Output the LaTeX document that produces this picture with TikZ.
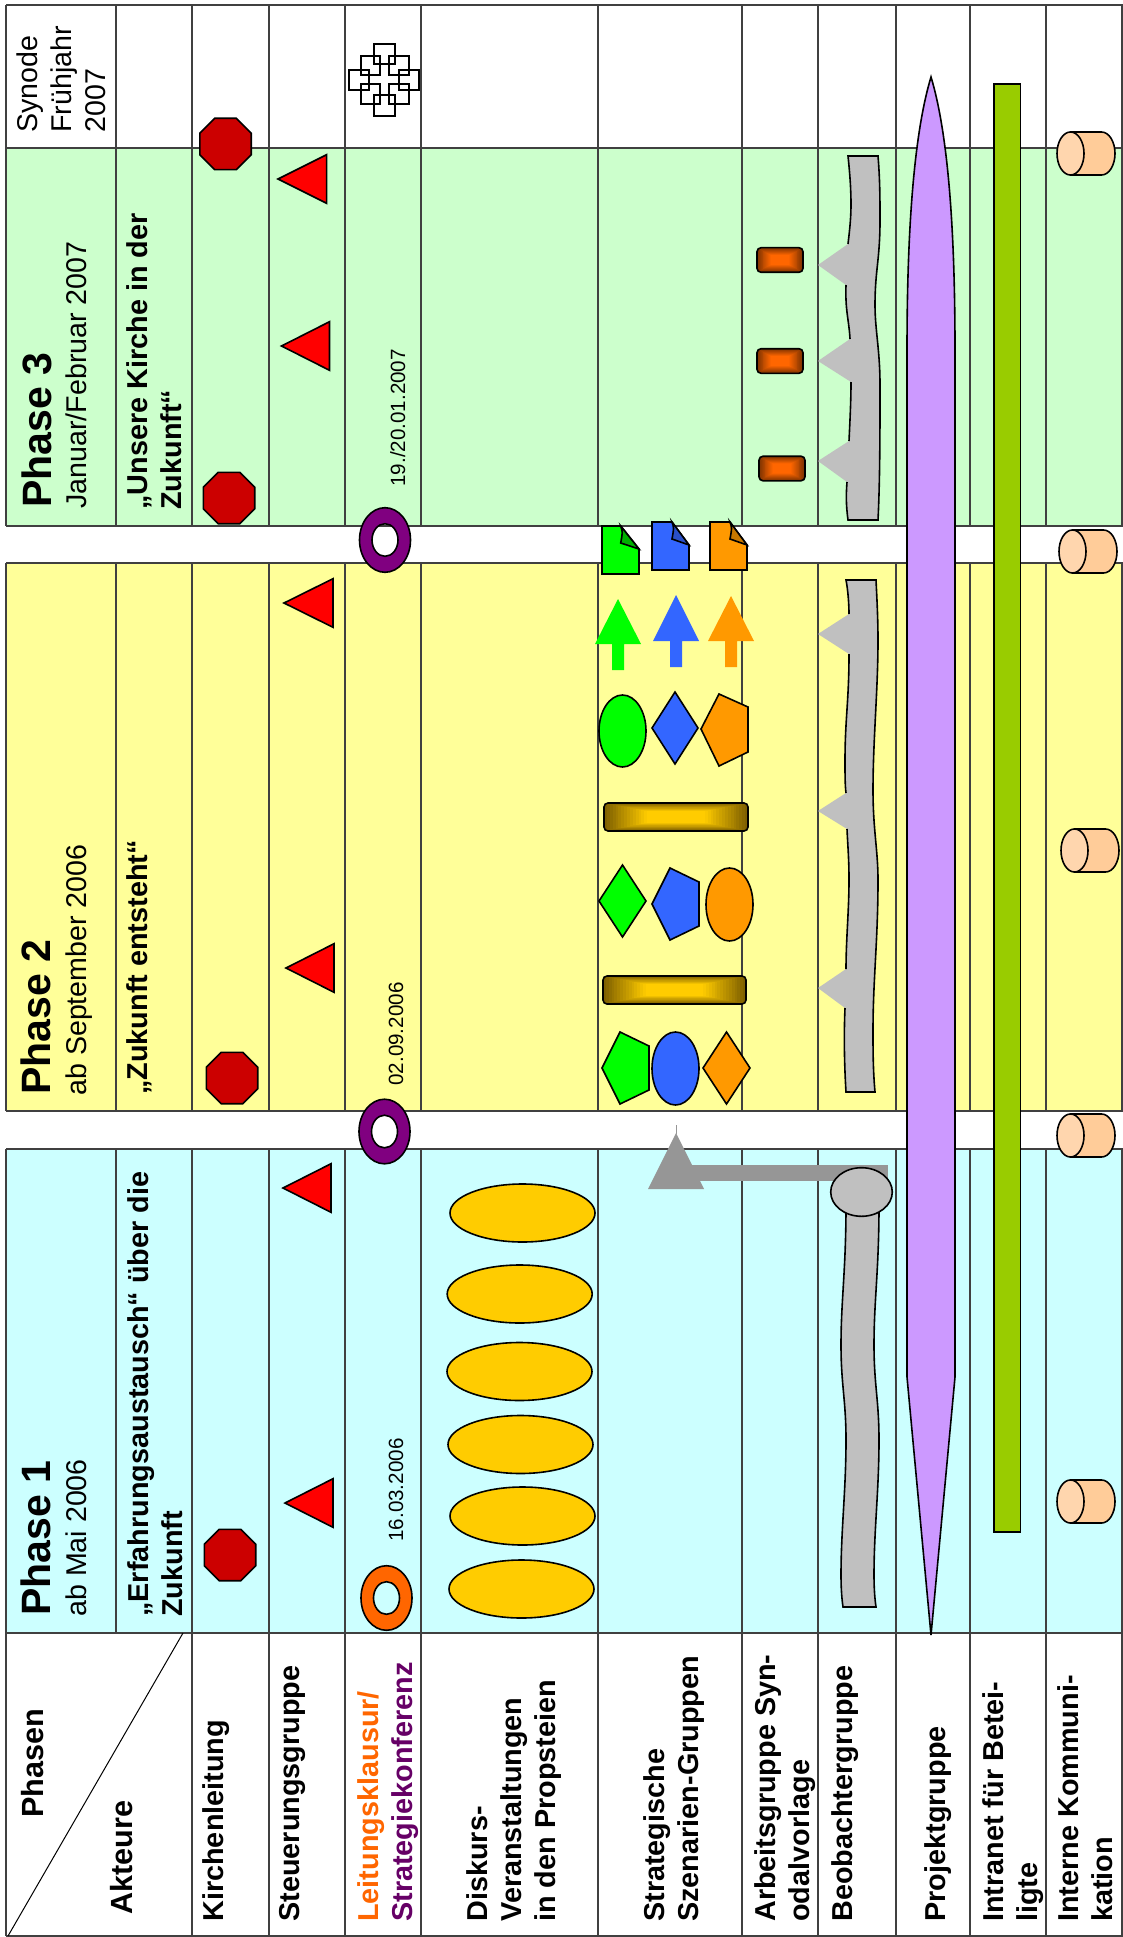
\documentclass[tikz,border=0pt]{standalone}
\usepackage{fontspec}
\setmainfont{Liberation Sans}
\definecolor{bandA}{HTML}{CCFFFF}
\definecolor{bandB}{HTML}{FFFF99}
\definecolor{bandC}{HTML}{CCFFCC}
\definecolor{gridc}{HTML}{404040}
\definecolor{octc}{HTML}{CC0000}
\definecolor{trired}{HTML}{FF0000}
\definecolor{ringo}{HTML}{FF6600}
\definecolor{ringp}{HTML}{800080}
\definecolor{labp}{HTML}{660066}
\definecolor{ellc}{HTML}{FFCC00}
\definecolor{grayb}{HTML}{C0C0C0}
\definecolor{graya}{HTML}{969696}
\definecolor{spind}{HTML}{CC99FF}
\definecolor{barg}{HTML}{99CC00}
\definecolor{cylb}{HTML}{FFCC99}
\definecolor{cylc}{HTML}{FFD6AE}
\definecolor{shg}{HTML}{00FF00}
\definecolor{shb}{HTML}{3366FF}
\definecolor{sho}{HTML}{FF9900}
\definecolor{fog}{HTML}{00B000}
\definecolor{fob}{HTML}{2A50C8}
\definecolor{foo}{HTML}{C87800}
\definecolor{golddark}{HTML}{7F6000}
\definecolor{brickdark}{HTML}{7F3300}
\tikzset{
  grid/.style={draw=gridc,line width=.75pt},
  outl/.style={draw=black,line width=.8pt,line join=miter},
  lab/.style={rotate=90,anchor=base west,inner sep=0pt,align=left,font=\fontsize{14.4}{17}\selectfont\bfseries},
  labr/.style={rotate=90,anchor=base west,inner sep=0pt,align=left,font=\fontsize{14.3}{17}\selectfont},
  phase/.style={rotate=90,anchor=base west,inner sep=0pt,font=\fontsize{20.5}{24}\selectfont\bfseries},
  head/.style={rotate=90,anchor=base west,inner sep=0pt,font=\fontsize{15.3}{18}\selectfont\bfseries},
  datel/.style={rotate=90,anchor=base west,inner sep=0pt,font=\fontsize{10.3}{12}\selectfont},
}
% octagon: centre
\newcommand{\myoct}[2]{\fill[octc,outl] (#1-25.7,#2-10.8) -- (#1-10.8,#2-25.7) -- (#1+10.8,#2-25.7) -- (#1+25.7,#2-10.8) -- (#1+25.7,#2+10.8) -- (#1+10.8,#2+25.7) -- (#1-10.8,#2+25.7) -- (#1-25.7,#2+10.8) -- cycle;}
% triangle: apex x, apex y, base x
\newcommand{\mytri}[3]{\fill[trired,outl] (#1,#2) -- (#3,#2-24.3) -- (#3,#2+24.3) -- cycle;}
% ring: centre
\newcommand{\myring}[3]{\fill[#3,outl,even odd rule] (#1,#2) ellipse [x radius=25.5,y radius=32.3] (#1,#2) ellipse [x radius=13,y radius=16.3];}
% ellipse: centre, rx, colour
\newcommand{\myell}[4]{\fill[#4,outl] (#1,#2) ellipse [x radius=#3,y radius=29];}
% cylinder: x1,y1,x2,y2
\newcommand{\mycyl}[4]{%
  \pgfmathsetmacro{\ym}{(#2+#4)/2}\pgfmathsetmacro{\rr}{(#4-#2)/2}%
  \fill[cylb,outl] (#1+13.5,#2) -- (#3-13.5,#2) .. controls (#3-6,#2) and (#3,\ym-.55*\rr) .. (#3,\ym) .. controls (#3,\ym+.55*\rr) and (#3-6,#4) .. (#3-13.5,#4) -- (#1+13.5,#4) -- cycle;
  \fill[cylc,outl] (#1+13.5,\ym) ellipse [x radius=13.5,y radius=\rr];}
% rectangular gradient box: cx,cy,hw,hh,dark,light
\newcommand{\mygrad}[6]{%
  \fill[#5,rounded corners=2pt] (#1-#3,#2-#4) rectangle (#1+#3,#2+#4);
  \foreach \i in {1,...,24}{%
    \pgfmathsetmacro{\ff}{1-\i/25}\pgfmathsetmacro{\pct}{min(100,170*\i/25)}%
    \fill[#6!\pct!#5] (#1-#3*\ff,#2-#4*\ff) rectangle (#1+#3*\ff,#2+#4*\ff);}
  \draw[outl,rounded corners=2pt] (#1-#3,#2-#4) rectangle (#1+#3,#2+#4);}
% document: x1,x2,y1,y2,foldx,foldy,colour,foldcolour
\newcommand{\mydoc}[8]{%
  \fill[#7,outl] (#1,#3) -- (#5,#3) -- (#2,#6) -- (#2,#4) -- (#1,#4) -- cycle;
  \fill[#8,outl] (#5,#3) .. controls (#5+2,#3+6) .. (#5,#6-6) -- (#2,#6) -- cycle;}
% up arrow: apex x, apex y, base y, end y, colour
\newcommand{\myarrow}[5]{\fill[#5] (#1,#2) -- (#1+23,#3) -- (#1+6,#3) -- (#1+6,#4) -- (#1-6,#4) -- (#1-6,#3) -- (#1-23,#3) -- cycle;}
\newcommand{\mydia}[5]{\fill[#5,outl] (#1,#3) -- (#2,{(#3+#4)/2}) -- (#1,#4) -- ({2*#1-#2},{(#3+#4)/2}) -- cycle;}
\begin{document}
\begin{tikzpicture}[x=.5pt,y=-.5pt]
\useasboundingbox (0,0) rectangle (1123,1937);
% bands
\fill[bandC] (6,148) rectangle (1123,526);
\fill[bandB] (6,563) rectangle (1123,1111);
\fill[bandA] (6,1149) rectangle (1123,1633);
% horizontal rules
\foreach \yy in {5,148,526,563,1111,1149,1633,1936}{\draw[grid] (6,\yy) -- (1123,\yy);}
% vertical rules
\foreach \xx in {6,192,269,345,421,598,742,818,896,970,1046,1122}{
  \draw[grid] (\xx,5) -- (\xx,526);
  \draw[grid] (\xx,563) -- (\xx,1111);
  \draw[grid] (\xx,1149) -- (\xx,1936);
}
\draw[grid] (116,5) -- (116,526) (116,563) -- (116,1111) (116,1149) -- (116,1633);
\draw[black,line width=.5pt] (183,1633) -- (8,1936);

% octagons
\myoct{230}{1555}\myoct{232}{1078}\myoct{229}{498}\myoct{225.5}{144}
% triangles
\mytri{285}{1503}{333}\mytri{283}{1188}{331}\mytri{286}{968}{334}\mytri{284}{603}{333}\mytri{281.5}{346}{329.5}\mytri{278}{179}{326.6}
% rings
\myring{386.5}{1598}{ringo}\myring{384.5}{1131.5}{ringp}\myring{385}{540}{ringp}
% cross emblem
\draw[black,line width=1.05pt] (374.3,44.3) rectangle (395,64.3) (360.7,55.7) rectangle (380,75) (389,55.7) rectangle (409,75)
  (349.3,70) rectangle (369.3,90) (399.3,70) rectangle (419.3,90) (360.7,84.3) rectangle (380,104) (389,84.3) rectangle (409,104) (374.3,95.3) rectangle (395,115.7);
% discourse ellipses
\myell{522.5}{1213}{72.5}{ellc}\myell{519.7}{1294}{72.5}{ellc}\myell{519.5}{1371.5}{72.5}{ellc}\myell{520.5}{1444.5}{72.5}{ellc}\myell{522.5}{1516}{72.5}{ellc}\myell{521.5}{1589}{72.5}{ellc}

% scenario shapes, set 1
\fill[shg,outl] (602,1068) -- (620,1032) -- (649,1046) -- (649,1090) -- (620,1104) -- cycle;
\fill[shb,outl] (675.5,1068.5) ellipse [x radius=23.5,y radius=36.5];
\mydia{726.5}{750}{1032}{1104}{sho}
% bars
\mygrad{674.5}{990}{71.5}{14}{golddark}{ellc}
\mygrad{676}{817}{72}{14}{golddark}{ellc}
% set 2
\mydia{622.5}{646}{865}{937}{shg}
\fill[shb,outl] (652,904) -- (670,868) -- (699,882) -- (699,926) -- (670,940) -- cycle;
\fill[sho,outl] (729.5,904.5) ellipse [x radius=23.5,y radius=36.5];
% set 3
\fill[shg,outl] (622.5,731) ellipse [x radius=23.5,y radius=36];
\mydia{675}{698}{692}{764}{shb}
\fill[sho,outl] (701,729) -- (719,694) -- (748,707) -- (748,752) -- (719,766) -- cycle;
% arrows
\myarrow{618}{599}{644}{670}{shg}
\myarrow{676}{595}{641}{667}{shb}
\myarrow{731}{596}{641}{667}{sho}
% documents
\mydoc{602}{639}{526}{574}{620.7}{549}{shg}{fog}
\mydoc{652}{689}{522}{570}{672}{545}{shb}{fob}
\mydoc{710}{747}{522}{570}{730}{545}{sho}{foo}

% bricks
\mygrad{780}{260}{23}{12.3}{brickdark}{ringo}
\mygrad{780}{361}{23}{12.3}{brickdark}{ringo}
\mygrad{782}{468.5}{23}{12.3}{brickdark}{ringo}

% observer band, phase 3
\fill[grayb] (848,156) -- (878,156) .. controls (880,180) and (880,200) .. (880,220) .. controls (880,260) and (875,270) .. (875,305) .. controls (875,330) and (880,350) .. (880,385) .. controls (880,430) and (880,480) .. (878,520) -- (848,520)
  .. controls (846,505) and (846,495) .. (847,482) -- (818,461) -- (849,441) .. controls (850,420) and (851,400) .. (851,382) -- (818,361) -- (850,339)
  .. controls (849,320) and (845,310) .. (846,285) -- (818,265) -- (848,244) .. controls (849,235) and (851,220) .. (851,205) .. controls (851,190) and (850,175) .. (848,156) -- cycle;
\draw[outl] (847,482) .. controls (846,495) and (846,505) .. (848,520) -- (878,520) .. controls (880,480) and (880,430) .. (880,385) .. controls (880,350) and (875,330) .. (875,305) .. controls (875,270) and (880,260) .. (880,220) .. controls (880,200) and (880,180) .. (878,156) -- (848,156) .. controls (850,175) and (851,190) .. (851,205) .. controls (851,220) and (849,235) .. (848,244);
\draw[outl] (851,382) .. controls (851,400) and (850,420) .. (849,441);
\draw[outl] (850,339) .. controls (849,320) and (845,310) .. (846,285);
% observer band, phase 2
\fill[grayb] (846,580) -- (876,580) .. controls (877,600) and (878,620) .. (878,640) .. controls (878,690) and (873,740) .. (873,790) .. controls (873,830) and (878,850) .. (878,880) .. controls (878,940) and (873,980) .. (873,1030) .. controls (873,1050) and (873,1070) .. (875,1092) -- (846,1092)
  .. controls (844,1060) and (844,1030) .. (845,1008) -- (818,988) -- (846,969) .. controls (846,940) and (849,910) .. (849,880) .. controls (849,860) and (848,850) .. (847,829) -- (818,811) -- (846,793)
  .. controls (845,785) and (845,775) .. (845,760) .. controls (845,720) and (849,700) .. (849,654) -- (818,634) -- (849,614) .. controls (849,605) and (848,590) .. (846,580) -- cycle;
\draw[outl] (845,1008) .. controls (844,1030) and (844,1060) .. (846,1092) -- (875,1092) .. controls (873,1070) and (873,1050) .. (873,1030) .. controls (873,980) and (878,940) .. (878,880) .. controls (878,850) and (873,830) .. (873,790) .. controls (873,740) and (878,690) .. (878,640) .. controls (878,620) and (877,600) .. (876,580) -- (846,580) .. controls (848,590) and (849,605) .. (849,614);
\draw[outl] (846,969) .. controls (846,940) and (849,910) .. (849,880) .. controls (849,860) and (848,850) .. (847,829);
\draw[outl] (846,793) .. controls (845,785) and (845,775) .. (845,760) .. controls (845,720) and (849,700) .. (849,654);
% observer band, phase 1
\fill[grayb,outl] (846,1205) .. controls (846,1270) and (841,1300) .. (841,1345) .. controls (841,1385) and (846,1400) .. (846,1440) .. controls (846,1490) and (841,1530) .. (841,1575) .. controls (841,1590) and (842,1600) .. (843,1607) -- (876,1607) .. controls (875,1600) and (874,1590) .. (874,1575) .. controls (874,1530) and (879,1490) .. (879,1440) .. controls (879,1400) and (874,1385) .. (874,1345) .. controls (874,1300) and (879,1270) .. (879,1205) -- cycle;
% grey arrow
\fill[graya] (676,1133) -- (704,1189) -- (648,1189) -- cycle;
\fill[graya] (680,1165) rectangle (888,1181);
\draw[graya,line width=.5pt] (676,1125) -- (676,1134);
\fill[grayb,outl] (861.5,1192) ellipse [x radius=30.8,y radius=24.3];

% project spindle
\fill[spind,outl] (931,77) .. controls (915,130) and (907,220) .. (907,350) -- (907,1377) -- (931,1635) -- (955,1377) -- (955,350) .. controls (955,220) and (947,130) .. (931,77) -- cycle;
% intranet bar
\fill[barg,outl] (994,84) rectangle (1020.5,1532);
% cylinders
\mycyl{1057}{132}{1115}{175}
\mycyl{1059}{530}{1117}{573}
\mycyl{1061}{829}{1119}{872}
\mycyl{1057}{1114}{1115}{1157}
\mycyl{1057}{1480}{1115}{1523}

% texts
\node[labr] (synode) at (105,133) {Synode\\Frühjahr\\2007};
\node[phase] (p3) at (51,508) {Phase 3};
\node[phase] (p2) at (50,1095) {Phase 2};
\node[phase] (p1) at (50,1616) {Phase 1};
\node[labr] (d3) at (86,509) {Januar/Februar 2007};
\node[labr] (d2) at (86.7,1096) {ab September 2006};
\node[labr] (d1) at (86.7,1617) {ab Mai 2006};
\node[lab] (t3) at (181,510) {„Unsere Kirche in der\\Zukunft“};
\node[lab] (t2) at (147.7,1095) {„Zukunft entsteht“};
\node[lab] (t1) at (182,1617) {„Erfahrungsaustausch“ über die\\Zukunft};
\node[datel] (dt1) at (403,1542) {16.03.2006};
\node[datel] (dt2) at (403,1086) {02.09.2006};
\node[datel] (dt3) at (405,487) {19./20.01.2007};
\node[head] (phasen) at (43,1818) {Phasen};
\node[head] (akteure) at (132.5,1915) {Akteure};
\node[lab] (a1) at (223.5,1922) {Kirchenleitung};
\node[lab] (a2) at (299.4,1922) {Steuerungsgruppe};
\node[lab] (a3) at (412,1922) {\textcolor{ringo}{Leitungsklausur/}\\\textcolor{labp}{Strategiekonferenz}};
\node[lab] (a4) at (555,1922) {Diskurs-\\Veranstaltungen\\in den Propsteien};
\node[lab] (a5) at (698,1922) {Strategische\\Szenarien-Gruppen};
\node[lab] (a6) at (809,1922) {Arbeitsgruppe Syn-\\odalvorlage};
\node[lab] (a7) at (852,1922) {Beobachtergruppe};
\node[lab] (a8) at (945.5,1922) {Projektgruppe};
\node[lab] (a9) at (1037,1922) {Intranet für Betei-\\ligte};
\node[lab] (a10) at (1112,1922) {Interne Kommuni-\\kation};
\end{tikzpicture}
\end{document}
